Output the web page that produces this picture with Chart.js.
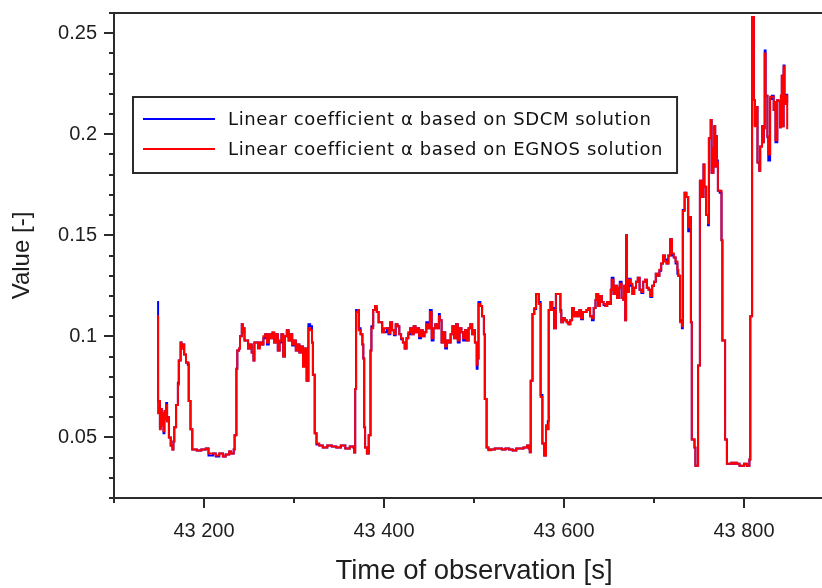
<!DOCTYPE html>
<html>
<head>
<meta charset="utf-8">
<title>Linear coefficient α</title>
<script src="https://cdn.jsdelivr.net/npm/chart.js@4.4.1/dist/chart.umd.min.js"></script>
<style>
  html, body { margin: 0; padding: 0; background: #fff; overflow: hidden; }
  #wrap { width: 850px; height: 588px; }
</style>
</head>
<body>
<div id="wrap"><canvas id="alphaChart" width="850" height="588"></canvas></div>
<script>
// observation epochs [s of day]
const OBS_TIME = [
  43148, 43149, 43150, 43151, 43152, 43153, 43154, 43155, 43156, 43157,
  43158, 43159, 43160, 43161, 43163, 43165, 43166, 43167, 43169, 43171,
  43172, 43174, 43175, 43176, 43178, 43180, 43182, 43183, 43185, 43187,
  43192, 43197, 43202, 43205, 43210, 43213, 43217, 43221, 43224, 43228,
  43230, 43233, 43234, 43236, 43237, 43239, 43240, 43242, 43243, 43244,
  43245, 43247, 43249, 43251, 43253, 43255, 43256, 43258, 43260, 43262,
  43264, 43266, 43268, 43270, 43272, 43274, 43276, 43278, 43280, 43282,
  43284, 43286, 43288, 43290, 43292, 43294, 43296, 43298, 43300, 43302,
  43304, 43306, 43308, 43310, 43312, 43314, 43316, 43318, 43320, 43321,
  43323, 43325, 43328, 43332, 43337, 43342, 43347, 43352, 43357, 43362,
  43366, 43367, 43368, 43369, 43371, 43372, 43374, 43376, 43377, 43378,
  43379, 43381, 43383, 43385, 43386, 43388, 43390, 43392, 43394, 43396,
  43398, 43400, 43403, 43405, 43407, 43409, 43411, 43413, 43415, 43417,
  43419, 43421, 43423, 43425, 43427, 43429, 43431, 43433, 43435, 43437,
  43439, 43441, 43443, 43445, 43447, 43449, 43451, 43453, 43455, 43457,
  43459, 43461, 43462, 43464, 43466, 43468, 43470, 43472, 43474, 43476,
  43478, 43480, 43482, 43484, 43486, 43488, 43490, 43492, 43494, 43496,
  43498, 43500, 43501, 43503, 43504, 43505, 43507, 43509, 43511, 43512,
  43514, 43516, 43519, 43523, 43527, 43531, 43535, 43539, 43543, 43547,
  43551, 43555, 43559, 43561, 43562, 43563, 43565, 43567, 43569, 43571,
  43572, 43574, 43576, 43578, 43579, 43580, 43582, 43583, 43585, 43587,
  43589, 43591, 43594, 43596, 43597, 43599, 43601, 43603, 43605, 43607,
  43609, 43611, 43613, 43615, 43617, 43619, 43621, 43623, 43625, 43627,
  43629, 43631, 43633, 43635, 43636, 43638, 43640, 43642, 43644, 43646,
  43648, 43650, 43652, 43653, 43655, 43657, 43659, 43661, 43662, 43664,
  43666, 43667, 43668, 43669, 43670, 43672, 43674, 43676, 43678, 43680,
  43682, 43684, 43686, 43688, 43690, 43692, 43694, 43696, 43698, 43700,
  43702, 43704, 43706, 43708, 43710, 43712, 43714, 43716, 43718, 43720,
  43722, 43724, 43726, 43727, 43729, 43731, 43732, 43734, 43736, 43738,
  43740, 43741, 43742, 43745, 43746, 43748, 43749, 43751, 43753, 43755,
  43756, 43758, 43760, 43761, 43763, 43764, 43766, 43767, 43768, 43769,
  43770, 43771, 43773, 43775, 43776, 43779, 43781, 43784, 43786, 43788,
  43790, 43792, 43795, 43797, 43800, 43803, 43806, 43807, 43809, 43811,
  43812, 43814, 43815, 43817, 43818, 43820, 43821, 43822, 43823, 43824,
  43826, 43827, 43829, 43831, 43833, 43834, 43835, 43837, 43838, 43840,
  43841, 43842, 43843, 43844, 43845, 43847, 43848
];

// alpha from the SDCM corrections
const ALPHA_SDCM = [
  0.117, 0.068, 0.068, 0.055, 0.064, 0.058, 0.062, 0.052, 0.060, 0.059,
  0.067, 0.058, 0.060, 0.050, 0.046, 0.044, 0.048, 0.055, 0.066, 0.077,
  0.088, 0.097, 0.094, 0.096, 0.091, 0.087, 0.086, 0.068, 0.054, 0.044,
  0.0435, 0.044, 0.0445, 0.041, 0.042, 0.0405, 0.042, 0.0405, 0.0415, 0.043,
  0.042, 0.044, 0.051, 0.084, 0.093, 0.094, 0.100, 0.106, 0.102, 0.104,
  0.098, 0.098, 0.094, 0.096, 0.092, 0.088, 0.097, 0.097, 0.095, 0.097,
  0.096, 0.099, 0.101, 0.096, 0.101, 0.099, 0.1015, 0.097, 0.101, 0.093,
  0.097, 0.101, 0.090, 0.100, 0.103, 0.098, 0.101, 0.0955, 0.098, 0.093,
  0.096, 0.092, 0.095, 0.086, 0.094, 0.078, 0.106, 0.105, 0.097, 0.081,
  0.052, 0.0465, 0.046, 0.045, 0.046, 0.0455, 0.045, 0.046, 0.0445, 0.0455,
  0.045, 0.0425, 0.074, 0.113, 0.113, 0.104, 0.101, 0.096, 0.089, 0.055,
  0.045, 0.042, 0.051, 0.093, 0.105, 0.113, 0.114, 0.112, 0.107, 0.107,
  0.102, 0.102, 0.104, 0.101, 0.107, 0.103, 0.1005, 0.106, 0.105, 0.101,
  0.0985, 0.097, 0.094, 0.099, 0.101, 0.104, 0.101, 0.105, 0.102, 0.104,
  0.099, 0.103, 0.100, 0.102, 0.107, 0.104, 0.113, 0.098, 0.104, 0.106,
  0.104, 0.111, 0.108, 0.097, 0.102, 0.094, 0.098, 0.097, 0.101, 0.105,
  0.099, 0.106, 0.097, 0.104, 0.102, 0.098, 0.103, 0.098, 0.104, 0.106,
  0.101, 0.103, 0.097, 0.084, 0.089, 0.117, 0.115, 0.110, 0.101, 0.069,
  0.045, 0.044, 0.044, 0.0445, 0.0445, 0.044, 0.0445, 0.044, 0.0435, 0.0445,
  0.0445, 0.045, 0.046, 0.0445, 0.0427, 0.078, 0.111, 0.1135, 0.121, 0.121,
  0.117, 0.071, 0.047, 0.041, 0.041, 0.0545, 0.058, 0.113, 0.117, 0.114,
  0.104, 0.121, 0.121, 0.113, 0.107, 0.109, 0.108, 0.107, 0.106, 0.108,
  0.114, 0.110, 0.1115, 0.110, 0.113, 0.1085, 0.112, 0.112, 0.113, 0.1135,
  0.110, 0.108, 0.114, 0.118, 0.121, 0.115, 0.120, 0.117, 0.1155, 0.115,
  0.117, 0.116, 0.123, 0.129, 0.121, 0.125, 0.119, 0.124, 0.127, 0.119,
  0.118, 0.125, 0.108, 0.150, 0.122, 0.1285, 0.125, 0.121, 0.124, 0.127,
  0.129, 0.123, 0.1215, 0.127, 0.128, 0.124, 0.123, 0.1195, 0.125, 0.127,
  0.131, 0.130, 0.1325, 0.136, 0.140, 0.138, 0.136, 0.140, 0.148, 0.140,
  0.139, 0.136, 0.131, 0.130, 0.108, 0.104, 0.1625, 0.171, 0.169, 0.152,
  0.159, 0.107, 0.049, 0.045, 0.036, 0.036, 0.0856, 0.177, 0.169, 0.185,
  0.174, 0.160, 0.155, 0.198, 0.207, 0.181, 0.193, 0.204, 0.184, 0.199,
  0.187, 0.172, 0.171, 0.1475, 0.098, 0.049, 0.037, 0.037, 0.0375, 0.037,
  0.0375, 0.037, 0.036, 0.036, 0.037, 0.036, 0.039, 0.110, 0.258, 0.217,
  0.2045, 0.2135, 0.186, 0.182, 0.194, 0.204, 0.196, 0.203, 0.2415, 0.219,
  0.1985, 0.187, 0.2175, 0.219, 0.212, 0.216, 0.196, 0.217, 0.2165, 0.2035,
  0.219, 0.229, 0.204, 0.234, 0.215, 0.2195, 0.2155
];

// alpha from the EGNOS corrections
const ALPHA_EGNOS = [
  0.110, 0.062, 0.068, 0.054, 0.064, 0.056, 0.062, 0.053, 0.063, 0.059,
  0.066, 0.058, 0.060, 0.050, 0.046, 0.044, 0.048, 0.055, 0.066, 0.076,
  0.088, 0.097, 0.094, 0.096, 0.091, 0.087, 0.087, 0.068, 0.054, 0.044,
  0.0435, 0.044, 0.0445, 0.042, 0.042, 0.041, 0.042, 0.0405, 0.0415, 0.043,
  0.042, 0.044, 0.051, 0.084, 0.093, 0.094, 0.100, 0.106, 0.102, 0.104,
  0.098, 0.098, 0.094, 0.096, 0.092, 0.088, 0.097, 0.097, 0.094, 0.097,
  0.096, 0.100, 0.101, 0.097, 0.101, 0.099, 0.102, 0.097, 0.101, 0.093,
  0.098, 0.101, 0.090, 0.100, 0.103, 0.098, 0.101, 0.096, 0.098, 0.093,
  0.096, 0.092, 0.095, 0.085, 0.094, 0.078, 0.104, 0.103, 0.097, 0.081,
  0.052, 0.047, 0.046, 0.045, 0.046, 0.0455, 0.045, 0.046, 0.0445, 0.0455,
  0.045, 0.0425, 0.074, 0.112, 0.113, 0.103, 0.101, 0.096, 0.089, 0.055,
  0.045, 0.042, 0.051, 0.093, 0.104, 0.113, 0.115, 0.112, 0.107, 0.107,
  0.102, 0.104, 0.104, 0.1015, 0.107, 0.103, 0.101, 0.106, 0.105, 0.101,
  0.099, 0.097, 0.094, 0.099, 0.102, 0.104, 0.101, 0.105, 0.102, 0.104,
  0.100, 0.103, 0.100, 0.102, 0.106, 0.104, 0.112, 0.099, 0.104, 0.106,
  0.104, 0.110, 0.108, 0.097, 0.102, 0.095, 0.098, 0.097, 0.101, 0.105,
  0.099, 0.106, 0.098, 0.104, 0.102, 0.099, 0.103, 0.098, 0.104, 0.106,
  0.101, 0.103, 0.097, 0.086, 0.089, 0.116, 0.115, 0.110, 0.101, 0.069,
  0.045, 0.0436, 0.044, 0.0445, 0.0445, 0.044, 0.0445, 0.044, 0.0435, 0.0445,
  0.0445, 0.045, 0.046, 0.0445, 0.0427, 0.078, 0.111, 0.114, 0.121, 0.121,
  0.116, 0.070, 0.047, 0.041, 0.041, 0.056, 0.054, 0.113, 0.117, 0.113,
  0.104, 0.121, 0.121, 0.112, 0.107, 0.109, 0.108, 0.107, 0.106, 0.108,
  0.114, 0.110, 0.112, 0.110, 0.113, 0.109, 0.112, 0.112, 0.113, 0.114,
  0.110, 0.109, 0.114, 0.118, 0.121, 0.115, 0.120, 0.117, 0.116, 0.115,
  0.117, 0.116, 0.123, 0.128, 0.121, 0.125, 0.119, 0.124, 0.126, 0.119,
  0.118, 0.125, 0.108, 0.150, 0.122, 0.128, 0.126, 0.121, 0.124, 0.127,
  0.129, 0.123, 0.122, 0.127, 0.128, 0.124, 0.123, 0.120, 0.125, 0.127,
  0.131, 0.130, 0.133, 0.136, 0.140, 0.137, 0.136, 0.140, 0.148, 0.141,
  0.139, 0.137, 0.133, 0.130, 0.107, 0.105, 0.162, 0.171, 0.169, 0.154,
  0.159, 0.107, 0.049, 0.045, 0.036, 0.036, 0.0856, 0.177, 0.169, 0.185,
  0.174, 0.160, 0.156, 0.198, 0.207, 0.181, 0.193, 0.204, 0.184, 0.199,
  0.186, 0.172, 0.172, 0.1475, 0.098, 0.049, 0.037, 0.037, 0.0375, 0.037,
  0.0375, 0.037, 0.036, 0.036, 0.037, 0.036, 0.039, 0.110, 0.258, 0.217,
  0.204, 0.2135, 0.186, 0.182, 0.194, 0.204, 0.196, 0.203, 0.240, 0.219,
  0.199, 0.190, 0.2185, 0.2185, 0.212, 0.216, 0.197, 0.217, 0.2165, 0.2035,
  0.219, 0.229, 0.204, 0.2335, 0.215, 0.219, 0.2025
];

const SERIES_LABELS = [
  "Linear coefficient α based on SDCM solution",
  "Linear coefficient α based on EGNOS solution"
];

// axis ranges and tick positions
const X_RANGE = [43100, 43900];
const Y_RANGE = [0.02, 0.26];
const X_TICKS = [43200, 43400, 43600, 43800];
const X_MINOR_TICKS = [43100, 43300, 43500, 43700, 43900];
const Y_TICKS = [0.05, 0.1, 0.15, 0.2, 0.25];
const Y_MINOR_TICKS = [0.02, 0.03, 0.04, 0.06, 0.07, 0.08, 0.09, 0.11, 0.12, 0.13,
  0.14, 0.16, 0.17, 0.18, 0.19, 0.21, 0.22, 0.23, 0.24, 0.26];

const AXIS_COLOR = "#2b2b2b";
const TEXT_COLOR = "#1e1e1e";

function toPoints(values) {
  return OBS_TIME.map((t, i) => ({ x: t, y: values[i] }));
}

// "43200" -> "43 200"
function groupThousands(value) {
  return String(value).replace(/(\d)(?=(\d{3})+$)/g, "$1 ");
}

// box around the plot area (the top edge is not drawn by any axis)
const frameBox = {
  id: "frameBox",
  afterDatasetsDraw(chart) {
    const { ctx, chartArea } = chart;
    ctx.save();
    ctx.strokeStyle = AXIS_COLOR;
    ctx.lineWidth = 2;
    ctx.strokeRect(chartArea.left, chartArea.top, chartArea.right - chartArea.left, chartArea.bottom - chartArea.top);
    ctx.restore();
  }
};

// short outward ticks between the labelled ones
const minorTicks = {
  id: "minorTicks",
  afterDraw(chart) {
    const { ctx, chartArea, scales } = chart;
    ctx.save();
    ctx.strokeStyle = AXIS_COLOR;
    ctx.lineWidth = 2;
    ctx.beginPath();
    X_MINOR_TICKS.forEach((v) => {
      const px = Math.round(scales.x.getPixelForValue(v));
      ctx.moveTo(px, chartArea.bottom);
      ctx.lineTo(px, chartArea.bottom + 5);
    });
    Y_MINOR_TICKS.forEach((v) => {
      const py = Math.round(scales.y.getPixelForValue(v));
      ctx.moveTo(chartArea.left, py);
      ctx.lineTo(chartArea.left - 5, py);
    });
    ctx.stroke();
    ctx.restore();
  }
};

// boxed legend inside the plot, upper left
const boxedLegend = {
  id: "boxedLegend",
  afterDraw(chart) {
    const { ctx, chartArea } = chart;
    const left = chartArea.left + 19;
    const top = chartArea.top + 84;
    const items = chart.data.datasets;

    ctx.save();
    ctx.font = '18px "DejaVu Sans", sans-serif';
    ctx.letterSpacing = "0.6px";
    const textWidth = Math.max(...items.map((d) => ctx.measureText(d.label).width));
    const width = 95 + textWidth + 14;
    const height = 76;

    ctx.fillStyle = "#ffffff";
    ctx.fillRect(left, top, width, height);
    ctx.strokeStyle = AXIS_COLOR;
    ctx.lineWidth = 2;
    ctx.strokeRect(left, top, width, height);

    items.forEach((d, i) => {
      const y = top + 22 + i * 30;
      ctx.strokeStyle = d.borderColor;
      ctx.lineWidth = 2;
      ctx.beginPath();
      ctx.moveTo(left + 10, y);
      ctx.lineTo(left + 82, y);
      ctx.stroke();

      ctx.fillStyle = "#111111";
      ctx.textAlign = "left";
      ctx.textBaseline = "middle";
      ctx.fillText(d.label, left + 95, y + 1);
    });
    ctx.letterSpacing = "0px";
    ctx.restore();
  }
};

new Chart(document.getElementById("alphaChart").getContext("2d"), {
  type: "line",
  data: {
    datasets: [
      {
        label: SERIES_LABELS[0],
        data: toPoints(ALPHA_SDCM),
        borderColor: "#0000ff",
        borderWidth: 2,
        pointRadius: 0,
        stepped: true,
        order: 2
      },
      {
        label: SERIES_LABELS[1],
        data: toPoints(ALPHA_EGNOS),
        borderColor: "#ff0000",
        borderWidth: 2,
        pointRadius: 0,
        stepped: true,
        order: 1
      }
    ]
  },
  options: {
    responsive: false,
    animation: false,
    events: [],
    layout: {
      padding: { top: 13, right: 16, bottom: 0, left: 0 }
    },
    scales: {
      x: {
        type: "linear",
        min: X_RANGE[0],
        max: X_RANGE[1],
        afterBuildTicks: (scale) => {
          scale.ticks = X_TICKS.map((v) => ({ value: v }));
        },
        afterFit: (scale) => {
          scale.height = 90;
          scale.paddingLeft = 0;
          scale.paddingRight = 0;
        },
        ticks: {
          autoSkip: false,
          maxRotation: 0,
          padding: 11,
          color: TEXT_COLOR,
          font: { family: "'Liberation Sans', Arial, sans-serif", size: 20 },
          callback: (value) => groupThousands(value)
        },
        grid: {
          drawOnChartArea: false,
          drawTicks: true,
          tickLength: 10,
          lineWidth: 2,
          color: AXIS_COLOR
        },
        border: { color: AXIS_COLOR, width: 2 },
        title: {
          display: true,
          text: "Time of observation [s]",
          color: TEXT_COLOR,
          font: { family: "'Liberation Sans', Arial, sans-serif", size: 27.5 },
          padding: { top: 0, bottom: 0 }
        }
      },
      y: {
        type: "linear",
        min: Y_RANGE[0],
        max: Y_RANGE[1],
        afterBuildTicks: (scale) => {
          scale.ticks = Y_TICKS.map((v) => ({ value: v }));
        },
        afterFit: (scale) => {
          scale.width = 114;
          scale.paddingTop = 0;
          scale.paddingBottom = 0;
        },
        ticks: {
          autoSkip: false,
          padding: 7,
          color: TEXT_COLOR,
          font: { family: "'Liberation Sans', Arial, sans-serif", size: 20 },
          callback: (value) => String(+value.toFixed(2))
        },
        grid: {
          drawOnChartArea: false,
          drawTicks: true,
          tickLength: 10,
          lineWidth: 2,
          color: AXIS_COLOR
        },
        border: { color: AXIS_COLOR, width: 2 },
        title: {
          display: true,
          text: "Value [-]",
          color: TEXT_COLOR,
          font: { family: "'Liberation Sans', Arial, sans-serif", size: 24 },
          padding: { top: 8, bottom: 0 }
        }
      }
    },
    plugins: {
      legend: { display: false },
      tooltip: { enabled: false }
    }
  },
  plugins: [frameBox, minorTicks, boxedLegend]
});
</script>
</body>
</html>
